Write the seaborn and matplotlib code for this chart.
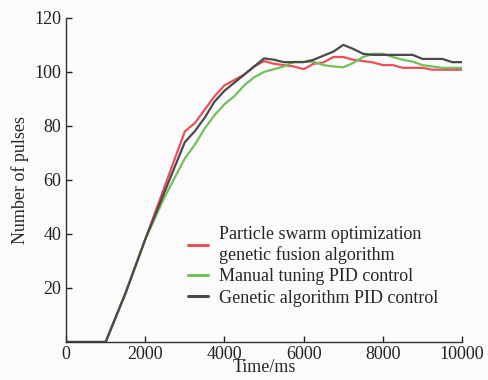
import numpy as np
import pandas as pd
import matplotlib
matplotlib.use("Agg")
import matplotlib.pyplot as plt
import seaborn as sns

time_ms = list(range(0, 10001, 250))

pso_ga = [0, 0, 0, 0, 0, 9, 18, 28, 38, 48, 58, 68, 78, 81, 86, 91, 95, 97, 99, 102, 104,
          103, 102.5, 102, 101, 103, 103.5, 105.5, 105.5, 104.5, 104, 103.5, 102.5, 102.5,
          101.5, 101.5, 101.5, 100.8, 100.8, 100.8, 100.8]
manual_pid = [0, 0, 0, 0, 0, 9, 18, 28, 38, 46, 54, 61, 68, 73, 79, 84, 88, 91, 95, 98, 100,
              101, 102, 103.7, 103.7, 103.7, 102.5, 102, 101.7, 103.3, 105.5, 106.7, 106.7,
              105.5, 104.5, 103.8, 102.5, 102, 101.5, 101.5, 101.5]
ga_pid = [0, 0, 0, 0, 0, 9, 18, 28, 38, 47, 56, 65, 74, 78, 83, 89, 93, 96, 99, 102, 105,
          104.5, 103.6, 103.6, 103.6, 104.5, 106, 107.5, 110, 108.5, 106.7, 106.3, 106.3,
          106.3, 106.3, 106.3, 104.8, 104.8, 104.8, 103.6, 103.6]

labels = ["Particle swarm optimization\ngenetic fusion algorithm",
          "Manual tuning PID control",
          "Genetic algorithm PID control"]
colors = ["#e8505a", "#72c05a", "#4a4a4a"]

df = pd.DataFrame({
    "Time": time_ms * 3,
    "Pulses": pso_ga + manual_pid + ga_pid,
    "Method": [labels[0]] * len(time_ms) + [labels[1]] * len(time_ms) + [labels[2]] * len(time_ms),
})

sns.set_style("ticks")
plt.rcParams["font.family"] = ["Liberation Serif", "DejaVu Serif"]

fig = plt.figure(figsize=(4.89, 3.80), dpi=100)
fig.patch.set_facecolor("#fbfbfb")
ax = fig.add_axes([0.135, 0.10, 0.81, 0.853])
ax.set_facecolor("#fbfbfb")

sns.lineplot(data=df, x="Time", y="Pulses", hue="Method", palette=colors,
             hue_order=labels, ax=ax, linewidth=1.6, legend=True)

ax.set_xlim(0, 10000)
ax.set_ylim(0, 120)
ax.set_xticks([0, 2000, 4000, 6000, 8000, 10000])
ax.set_yticks([20, 40, 60, 80, 100, 120])
ax.tick_params(direction="in", length=4, width=1, labelsize=13, colors="#222222")
ax.tick_params(axis="x", pad=3)
ax.set_xlabel("Time/ms", fontsize=13, labelpad=-3)
ax.set_ylabel("Number of pulses", fontsize=13, labelpad=4)
for s in ["top", "right"]:
    ax.spines[s].set_visible(False)
for s in ["left", "bottom"]:
    ax.spines[s].set_linewidth(1.0)
    ax.spines[s].set_color("#333333")

leg = ax.legend(loc="upper left", bbox_to_anchor=(0.29, 0.38), frameon=False,
                fontsize=13, handlelength=1.1, handletextpad=0.6,
                labelspacing=0.25, borderaxespad=0)
for line in leg.get_lines():
    line.set_linewidth(2.2)

fig.savefig("out.png", dpi=100, facecolor=fig.get_facecolor())
